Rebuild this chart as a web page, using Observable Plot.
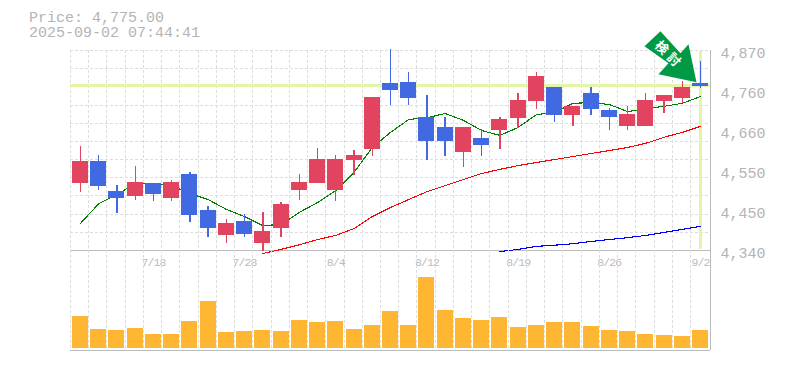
<!DOCTYPE html>
<html>
<head>
<meta charset="utf-8">
<script src="https://cdn.jsdelivr.net/npm/d3@7"></script>
<script src="https://cdn.jsdelivr.net/npm/@observablehq/plot@0.6"></script>
<style>
html,body{margin:0;padding:0;background:#fff}
#chart{position:relative;width:785px;height:370px;overflow:hidden}
#title{position:absolute;left:29px;top:11px;font:15px/15px "Liberation Mono",monospace;color:#b4b4b4;white-space:pre}
#chart svg{position:absolute;left:0;background:transparent}
</style>
</head>
<body>
<div id="chart"><div id="title">Price: 4,775.00
2025-09-02 07:44:41</div></div>
<script>
const dates = ["7/14","7/15","7/16","7/17","7/18","7/22","7/23","7/24","7/25","7/28","7/29","7/30","7/31","8/1","8/4","8/5","8/6","8/7","8/8","8/12","8/13","8/14","8/15","8/18","8/19","8/20","8/21","8/22","8/25","8/26","8/27","8/28","8/29","9/1","9/2"];
const opens  = [4518,4576,4496,4483,4518,4478,4541,4446,4380,4417,4358,4398,4499,4518,4499,4579,4608,4783,4785,4692,4666,4600,4637,4658,4690,4735,4772,4698,4756,4711,4669,4669,4735,4743,4783];
const closes = [4576,4510,4478,4520,4488,4520,4433,4398,4412,4382,4390,4462,4520,4581,4581,4592,4745,4764,4743,4629,4629,4666,4618,4687,4737,4801,4698,4722,4714,4692,4700,4737,4751,4772,4775];
const highs  = [4616,4592,4512,4563,4518,4525,4547,4457,4422,4435,4441,4467,4541,4610,4592,4605,4745,4873,4812,4751,4692,4666,4661,4692,4756,4812,4772,4722,4772,4716,4722,4756,4751,4788,4841];
const lows   = [4494,4499,4438,4472,4470,4470,4414,4374,4358,4374,4337,4374,4472,4518,4470,4539,4589,4724,4724,4579,4589,4560,4589,4608,4663,4714,4679,4669,4698,4658,4658,4669,4703,4730,4769];
const maShort = [4412,4464,4488,4518,4518,4512,4491,4475,4449,4430,4406,4409,4441,4467,4499,4547,4613,4653,4687,4692,4703,4685,4658,4645,4666,4700,4706,4730,4732,4727,4708,4716,4722,4730,4748];
const maMid = [4332,4343,4355,4369,4380,4398,4430,4454,4475,4496,4512,4528,4544,4555,4565,4573,4581,4589,4597,4605,4613,4624,4640,4653,4669];
const maLong = [4337,4343,4351,4354,4358,4364,4369,4374,4380,4388,4396,4404];
const volume = [32,19,18,20,14,14,27,47,16,17,18,17,28,26,27,19,23,37,23,71,38,30,28,31,21,23,26,26,22,18,17,14,13,12,18];
const tickDates = ["7/18","7/28","8/4","8/12","8/19","8/26","9/2"];
const priceTicks = [4870,4764,4658,4552,4446,4340];
const priceLabels = ["4,870","4,760","4,660","4,550","4,450","4,340"];
const lastPrice = 4775;
const lastDate = dates[dates.length-1];
const gridPrices = d3.range(12).map(k => 4870 - k*530/11);

const FONT = '"Liberation Mono", monospace';
const CJK = '"Noto Sans CJK JP", sans-serif';
const GRID = {stroke:"#ddd", strokeWidth:1, strokeDasharray:"3,2", shapeRendering:"crispEdges"};
const RED = "#e2435f", BLUE = "#4169e1";
const xScale = {type:"band", domain:dates, range:[70.88,709.1], paddingInner:0.122, paddingOuter:0.061, round:false, axis:null};
const idx = d3.range(dates.length);
const col = i => closes[i] > opens[i] ? RED : BLUE;

const arrowSymbol = {draw(c){
  const pts = [[-40,-55],[-56,-40],[-32,-23],[-42,-12],[-4,-4],[-12,-42],[-20,-33]];
  pts.forEach((p,i)=> i ? c.lineTo(p[0],p[1]) : c.moveTo(p[0],p[1]));
  c.closePath();
}};
const badge = (ch, dx, dy) => Plot.text([ch], {x:()=>lastDate, y:()=>lastPrice, dx, dy, rotate:45, fill:"#fff", fontSize:13, fontWeight:"bold", fontFamily:CJK});

const pricePlot = Plot.plot({
  width:785, height:270, marginTop:50, marginBottom:20, marginLeft:70, marginRight:75,
  style:{fontFamily:FONT, background:"transparent"},
  x:xScale,
  y:{domain:[4340,4870], range:[250,50], axis:null},
  marks:[
    Plot.ruleY(gridPrices.slice(0,-1), GRID),
    Plot.ruleX(dates, {x:d=>d, dx:-10, ...GRID}),
    Plot.ruleX([lastDate], {x:d=>d, dx:10, stroke:"#bbb", shapeRendering:"crispEdges"}),
    Plot.ruleY([4340], {stroke:"#bbb", shapeRendering:"crispEdges"}),
    Plot.ruleY([lastPrice], {stroke:"#e3f6a8", strokeWidth:3, dy:-0.5, shapeRendering:"crispEdges"}),
    Plot.ruleX([lastDate], {x:d=>d, y1:4343, y2:4868, stroke:"#e3f6a8", strokeWidth:3, dx:0.5, shapeRendering:"crispEdges"}),
    Plot.lineY(maLong, {x:dates.slice(23), y:maLong, stroke:"#0000ff", strokeWidth:1.1, shapeRendering:"crispEdges"}),
    Plot.lineY(maMid, {x:dates.slice(10), y:maMid, stroke:"#ff0000", strokeWidth:1.1, shapeRendering:"crispEdges"}),
    Plot.lineY(maShort, {x:dates, y:maShort, stroke:"#008000", strokeWidth:1.1, shapeRendering:"crispEdges"}),
    Plot.ruleX(idx, {x:i=>dates[i], y1:i=>lows[i], y2:i=>highs[i], stroke:col, strokeWidth:1.4, shapeRendering:"crispEdges"}),
    Plot.barY(idx, {x:i=>dates[i], y1:i=>opens[i], y2:i=>closes[i], fill:col, shapeRendering:"crispEdges"}),
    Plot.dot([lastDate], {x:d=>d, y:()=>lastPrice, symbol:arrowSymbol, r:10, fill:"#009944", stroke:"none"}),
    badge("検", -39, -38.5),
    badge("討", -27, -26.5),
    Plot.axisX({ticks:tickDates, tickSize:0, tickPadding:7, fontSize:11.5, color:"#bbb", fontFamily:FONT, label:null}),
    Plot.axisY({anchor:"right", ticks:priceTicks, tickFormat:d=>priceLabels[priceTicks.indexOf(d)], tickSize:0, tickPadding:10, fontSize:15, dy:3, color:"#b4b4b4", fontFamily:FONT, label:null})
  ]
});
pricePlot.style.top = "0px";
d3.select(pricePlot).selectAll('[aria-label="x-axis tick label"]').style("letter-spacing","-0.9px");

const volumePlot = Plot.plot({
  width:785, height:101, marginTop:0, marginBottom:1, marginLeft:70, marginRight:75,
  style:{background:"transparent"},
  x:xScale,
  y:{domain:[-2,98], axis:null},
  marks:[
    Plot.ruleX(dates, {x:d=>d, dx:-10, ...GRID}),
    Plot.ruleX([lastDate], {x:d=>d, dx:10, stroke:"#bbb", shapeRendering:"crispEdges"}),
    Plot.barY(volume, {x:dates, y:volume, fill:"#ffb733", shapeRendering:"crispEdges"}),
    Plot.ruleY([-2], {stroke:"#bbb", strokeWidth:1.5, shapeRendering:"crispEdges"})
  ]
});
volumePlot.style.top = "250px";

document.getElementById("chart").append(pricePlot, volumePlot);
</script>
</body>
</html>
